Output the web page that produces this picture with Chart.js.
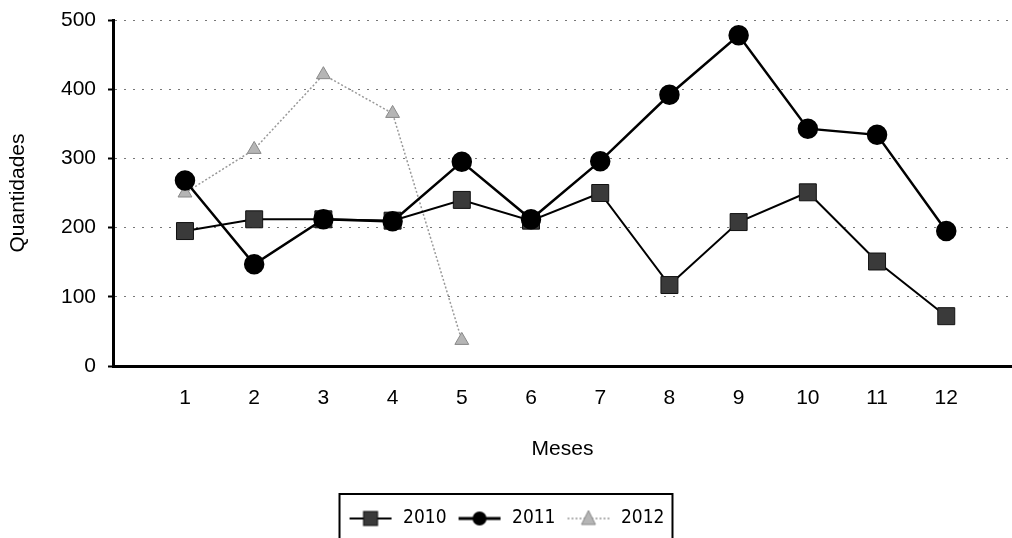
<!DOCTYPE html>
<html>
<head>
<meta charset="utf-8">
<script src="https://cdn.jsdelivr.net/npm/chart.js@4/dist/chart.umd.min.js"></script>
<style>body{margin:0;background:#fff}</style>
</head>
<body>
<canvas id="grafico" width="1012" height="538"></canvas>
<script>
// meses no eixo x, quantidades por ano
const meses = [1, 2, 3, 4, 5, 6, 7, 8, 9, 10, 11, 12];
const anos = ["2010", "2011", "2012"];
const v2010 = [195, 212, 212, 210, 240, 210, 250, 117, 208, 251, 151, 72];
const v2011 = [268, 147, 212, 209, 295, 212, 296, 392, 478, 343, 334, 195];
const v2012 = [250, 313, 421, 365, 37];
const yTicks = [0, 100, 200, 300, 400, 500];

const pts = vals => vals.map((v, i) => ({ x: meses[i], y: v }));

// little line+marker pictures for the legend
function legendIcon(kind) {
  const c = document.createElement("canvas");
  c.width = 46; c.height = 20;
  const g = c.getContext("2d");
  const cy = 10, cx = 23;
  g.beginPath();
  g.moveTo(2, cy); g.lineTo(44, cy);
  if (kind === 2) {
    g.strokeStyle = "#999"; g.lineWidth = 1.5; g.setLineDash([2, 2]);
  } else {
    g.strokeStyle = "#000"; g.lineWidth = kind === 1 ? 3 : 2;
  }
  g.stroke();
  g.setLineDash([]);
  if (kind === 0) {
    g.fillStyle = "#3a3a3a"; g.fillRect(cx - 7, cy - 7, 14, 14);
    g.strokeStyle = "#111"; g.lineWidth = 1; g.strokeRect(cx - 7, cy - 7, 14, 14);
  } else if (kind === 1) {
    g.fillStyle = "#000"; g.beginPath(); g.arc(cx, cy, 7, 0, Math.PI * 2); g.fill();
  } else {
    g.fillStyle = "#b5b5b5"; g.strokeStyle = "#888"; g.lineWidth = 1;
    g.beginPath(); g.moveTo(cx, cy - 8); g.lineTo(cx + 7, cy + 6); g.lineTo(cx - 7, cy + 6); g.closePath();
    g.fill(); g.stroke();
  }
  return c;
}
const icons = [legendIcon(0), legendIcon(1), legendIcon(2)];

const legendBox = {
  id: "legendBox",
  afterDraw(chart) {
    const hb = chart.legend.legendHitBoxes;
    if (!hb || !hb.length) return;
    const l = Math.min(...hb.map(h => h.left)) - 8;
    const r = Math.max(...hb.map(h => h.left + h.width)) + 8;
    const t = hb[0].top - 15;
    const ctx = chart.ctx;
    ctx.save();
    ctx.strokeStyle = "#000";
    ctx.lineWidth = 2;
    ctx.strokeRect(l, t, r - l, chart.height - t + 5);
    ctx.restore();
  }
};

const font = "'Liberation Sans', Arial, sans-serif";

new Chart(document.getElementById("grafico"), {
  type: "line",
  data: {
    datasets: [
      {
        label: anos[0],
        data: pts(v2010),
        borderColor: "#000",
        borderWidth: 2,
        pointStyle: "rect",
        pointRadius: 12,
        pointBackgroundColor: "#3a3a3a",
        pointBorderColor: "#111",
        pointBorderWidth: 1,
        order: 2
      },
      {
        label: anos[1],
        data: pts(v2011),
        borderColor: "#000",
        borderWidth: 2.5,
        pointStyle: "circle",
        pointRadius: 9,
        pointBackgroundColor: "#000",
        pointBorderColor: "#000",
        order: 1
      },
      {
        label: anos[2],
        data: pts(v2012),
        borderColor: "#999",
        borderWidth: 1.5,
        borderDash: [2, 2],
        pointStyle: "triangle",
        pointRadius: 8,
        pointBackgroundColor: "#b5b5b5",
        pointBorderColor: "#888",
        pointBorderWidth: 1,
        order: 3
      }
    ]
  },
  options: {
    responsive: false,
    animation: false,
    devicePixelRatio: 1,
    layout: { autoPadding: false, padding: { top: 20, left: 0, right: 0, bottom: 0 } },
    plugins: {
      tooltip: { enabled: false },
      legend: {
        position: "bottom",
        labels: {
          usePointStyle: true,
          pointStyleWidth: 46,
          padding: 10,
          color: "#000",
          font: { family: "'DejaVu Sans Condensed', 'Liberation Sans Narrow', 'DejaVu Sans', sans-serif", size: 19 },
          generateLabels: chart => chart.data.datasets.map((d, i) => ({
            text: d.label,
            pointStyle: icons[i],
            datasetIndex: i,
            fontColor: "#000",
            hidden: false,
            lineWidth: 0,
            strokeStyle: "transparent",
            fillStyle: "transparent"
          }))
        }
      }
    },
    scales: {
      x: {
        type: "linear",
        min: -0.04,
        max: 12.95,
        afterBuildTicks: s => { s.ticks = meses.map(m => ({ value: m })); },
        afterFit: s => { s.height = 133; s.paddingLeft = 0; s.paddingRight = 0; },
        grid: { display: false },
        border: { color: "#000", width: 3 },
        ticks: {
          color: "#000",
          padding: 12,
          font: { family: font, size: 21 },
          callback: v => String(v)
        },
        title: {
          display: true,
          text: "Meses",
          color: "#000",
          font: { family: font, size: 21 },
          padding: { top: 0, bottom: 37 }
        }
      },
      y: {
        min: 0,
        max: 500,
        afterBuildTicks: s => { s.ticks = yTicks.map(v => ({ value: v })); },
        afterFit: s => { s.width = 113; s.paddingTop = 0; s.paddingBottom = 0; },
        grid: {
          color: "#777",
          lineWidth: 1,
          tickColor: "#000",
          tickLength: 5,
          tickWidth: 2,
          tickBorderDash: []
        },
        border: { color: "#000", width: 3, dash: [2, 7] },
        ticks: {
          color: "#000",
          padding: 12,
          font: { family: font, size: 21 }
        },
        title: {
          display: true,
          text: "Quantidades",
          color: "#000",
          font: { family: font, size: 21 },
          padding: { top: 6, bottom: 0 }
        }
      }
    }
  },
  plugins: [legendBox]
});
</script>
</body>
</html>
